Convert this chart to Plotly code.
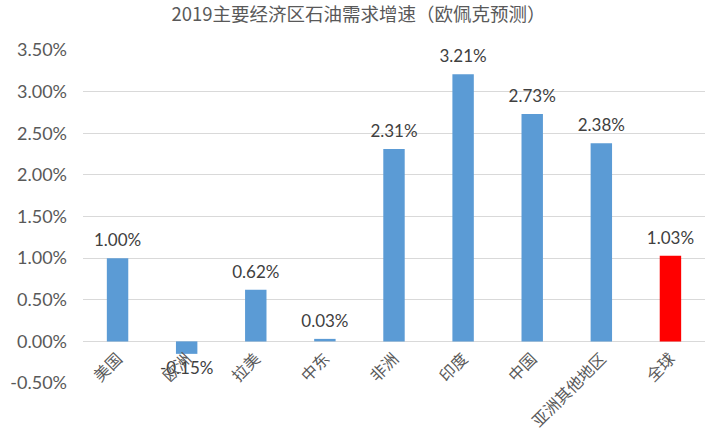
import plotly.graph_objects as go

categories = ["美国", "欧洲", "拉美", "中东", "非洲", "印度", "中国", "亚洲其他地区", "全球"]
growth_pct = [1.00, -0.15, 0.62, 0.03, 2.31, 3.21, 2.73, 2.38, 1.03]
bar_colors = ["#5B9BD5"] * 8 + ["#FF0000"]
y_tickvals = [-0.5, 0.0, 0.5, 1.0, 1.5, 2.0, 2.5, 3.0, 3.5]
y_ticktext = ["-0.50%", "0.00%", "0.50%", "1.00%", "1.50%", "2.00%", "2.50%", "3.00%", "3.50%"]
title_text = "2019主要经济区石油需求增速（欧佩克预测）"

y_min, y_max = -0.5, 3.5
labels = [f"{v:.2f}%" for v in growth_pct]
label_pos = ["top center" if v >= 0 else "bottom center" for v in growth_pct]

fig = go.Figure()
fig.add_trace(go.Bar(
    x=categories,
    y=growth_pct,
    marker=dict(color=bar_colors, line=dict(width=0)),
    width=0.31,
    hoverinfo="skip",
))
fig.add_trace(go.Scatter(
    x=categories,
    y=growth_pct,
    mode="markers+text",
    marker=dict(size=11, opacity=0),
    text=labels,
    textposition=label_pos,
    textfont=dict(family="Lato, Noto Sans CJK SC", size=17, color="#404040"),
    cliponaxis=False,
    hoverinfo="skip",
))

fig.update_layout(
    width=717,
    height=440,
    margin=dict(l=83, r=12, t=50, b=57),
    paper_bgcolor="white",
    plot_bgcolor="white",
    showlegend=False,
    title=dict(
        text=title_text,
        x=0.5,
        xref="container",
        xanchor="center",
        y=0.967,
        yanchor="middle",
        font=dict(family="Noto Sans CJK SC", size=18.5, color="#595959"),
    ),
    xaxis=dict(
        type="category",
        range=[-0.5, len(categories) - 0.5],
        anchor="free",
        position=(0 - y_min) / (y_max - y_min),
        automargin=False,
        showgrid=False,
        showline=False,
        zeroline=False,
        ticks="",
        tickangle=-45,
        ticklabelstandoff=4,
        tickfont=dict(family="Noto Sans CJK SC", size=16, color="#595959"),
    ),
    yaxis=dict(
        range=[y_min, y_max],
        automargin=False,
        tickvals=y_tickvals,
        ticktext=y_ticktext,
        showgrid=True,
        gridcolor="#D9D9D9",
        gridwidth=1,
        zeroline=True,
        zerolinecolor="#D9D9D9",
        zerolinewidth=1,
        showline=False,
        ticks="",
        ticklabelstandoff=15,
        tickfont=dict(family="Lato, Noto Sans CJK SC", size=18, color="#595959"),
    ),
)

fig.write_html("out.html")
